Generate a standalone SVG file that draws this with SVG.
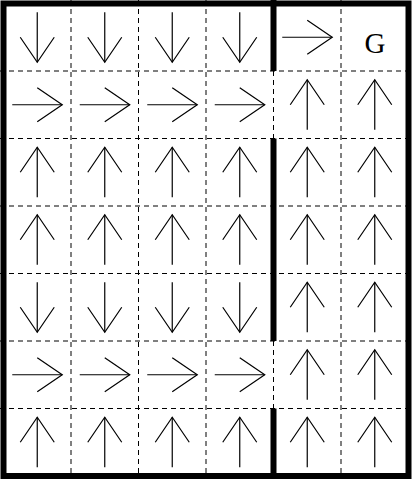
<svg xmlns="http://www.w3.org/2000/svg" xmlns:xlink="http://www.w3.org/1999/xlink" width="412" height="479" viewBox="0 0 412 479">
<style>
.grid{stroke:#000;stroke-width:1;stroke-dasharray:5,4;fill:none}
.wall{stroke:#000;stroke-width:6;fill:none}
.arr{stroke:#000;stroke-width:1.2;fill:none}
.g{font-family:"Liberation Serif",serif;font-size:29px;fill:#000}
</style>
<defs>
<g id="up" class="arr"><line x1="0" y1="25" x2="0" y2="-25"/><polyline points="-17,0 0,-25 17,0"/></g>
</defs>
<rect width="412" height="479" fill="#fff"/>
<g id="gridlines">
<path class="grid" d="M71 0V479M138.5 0V479M206 0V479M341 0V479M273.5 71V138.5M273.5 341V408.5M0 71H412M0 138.5H412M0 206H412M0 273.5H412M0 341H412M0 408.5H412"/>
</g>
<g id="walls">
<rect class="wall" x="3.5" y="3.5" width="405" height="472.5" stroke-width="7"/>
<path class="wall" d="M273.5 0V71M273.5 138.5V341M273.5 408.5V479"/>
</g>
<g id="arrows">
<g id="r0">
<use xlink:href="#up" transform="translate(37.25,37.25) rotate(180)"/>
<use xlink:href="#up" transform="translate(104.75,37.25) rotate(180)"/>
<use xlink:href="#up" transform="translate(172.25,37.25) rotate(180)"/>
<use xlink:href="#up" transform="translate(239.75,37.25) rotate(180)"/>
<use xlink:href="#up" transform="translate(307.25,37.25) rotate(90)"/>
</g>
<g id="r1">
<use xlink:href="#up" transform="translate(37.25,104.75) rotate(90)"/>
<use xlink:href="#up" transform="translate(104.75,104.75) rotate(90)"/>
<use xlink:href="#up" transform="translate(172.25,104.75) rotate(90)"/>
<use xlink:href="#up" transform="translate(239.75,104.75) rotate(90)"/>
<use xlink:href="#up" transform="translate(307.25,104.75)"/>
<use xlink:href="#up" transform="translate(374.75,104.75)"/>
</g>
<g id="r2">
<use xlink:href="#up" transform="translate(37.25,172.25)"/>
<use xlink:href="#up" transform="translate(104.75,172.25)"/>
<use xlink:href="#up" transform="translate(172.25,172.25)"/>
<use xlink:href="#up" transform="translate(239.75,172.25)"/>
<use xlink:href="#up" transform="translate(307.25,172.25)"/>
<use xlink:href="#up" transform="translate(374.75,172.25)"/>
</g>
<g id="r3">
<use xlink:href="#up" transform="translate(37.25,239.75)"/>
<use xlink:href="#up" transform="translate(104.75,239.75)"/>
<use xlink:href="#up" transform="translate(172.25,239.75)"/>
<use xlink:href="#up" transform="translate(239.75,239.75)"/>
<use xlink:href="#up" transform="translate(307.25,239.75)"/>
<use xlink:href="#up" transform="translate(374.75,239.75)"/>
</g>
<g id="r4">
<use xlink:href="#up" transform="translate(37.25,307.25) rotate(180)"/>
<use xlink:href="#up" transform="translate(104.75,307.25) rotate(180)"/>
<use xlink:href="#up" transform="translate(172.25,307.25) rotate(180)"/>
<use xlink:href="#up" transform="translate(239.75,307.25) rotate(180)"/>
<use xlink:href="#up" transform="translate(307.25,307.25)"/>
<use xlink:href="#up" transform="translate(374.75,307.25)"/>
</g>
<g id="r5">
<use xlink:href="#up" transform="translate(37.25,374.75) rotate(90)"/>
<use xlink:href="#up" transform="translate(104.75,374.75) rotate(90)"/>
<use xlink:href="#up" transform="translate(172.25,374.75) rotate(90)"/>
<use xlink:href="#up" transform="translate(239.75,374.75) rotate(90)"/>
<use xlink:href="#up" transform="translate(307.25,374.75)"/>
<use xlink:href="#up" transform="translate(374.75,374.75)"/>
</g>
<g id="r6">
<use xlink:href="#up" transform="translate(37.25,442.25)"/>
<use xlink:href="#up" transform="translate(104.75,442.25)"/>
<use xlink:href="#up" transform="translate(172.25,442.25)"/>
<use xlink:href="#up" transform="translate(239.75,442.25)"/>
<use xlink:href="#up" transform="translate(307.25,442.25)"/>
<use xlink:href="#up" transform="translate(374.75,442.25)"/>
</g>
</g>
<g id="goal"><text class="g" x="375" y="53" text-anchor="middle">G</text></g>
</svg>
